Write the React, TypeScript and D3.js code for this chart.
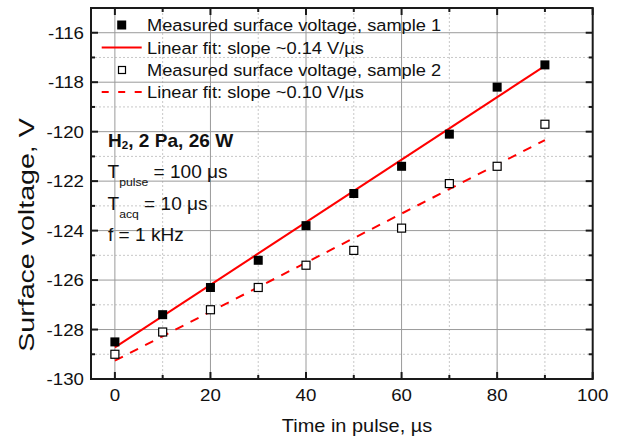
import React from "react";
import * as d3 from "d3";

const timeUs = [0, 10, 20, 30, 40, 50, 60, 70, 80, 90];
const sample1 = [-128.5, -127.4, -126.3, -125.2, -123.8, -122.5, -121.4, -120.1, -118.2, -117.3];
const sample2 = [-129.0, -128.1, -127.2, -126.3, -125.4, -124.8, -123.9, -122.1, -121.4, -119.7];
const fitX = [0, 90];
const fit1Y = [-128.72, -117.34];
const fit2Y = [-129.26, -120.34];
const xMajorTicks = [0, 20, 40, 60, 80, 100];
const xMinorTicks = [10, 30, 50, 70, 90];
const yMajorTicks = [-130, -128, -126, -124, -122, -120, -118, -116];
const yMinorTicks = [-129, -127, -125, -123, -121, -119, -117, -115];
const legendLabels = [
  "Measured surface voltage, sample 1",
  "Linear fit: slope ~0.14 V/\u00b5s",
  "Measured surface voltage, sample 2",
  "Linear fit: slope ~0.10 V/\u00b5s",
];

const W = 626;
const H = 441;
const FONT = "'Liberation Sans', Arial, Helvetica, sans-serif";
const INK = "#111";

function Txt(props: {
  x: number;
  y: number;
  size: number;
  sx?: number;
  anchor?: string;
  weight?: string;
  rotate?: number;
  children: React.ReactNode;
}) {
  const { x, y, size, sx = 1.1, anchor = "start", weight = "normal", rotate = 0, children } = props;
  const tr = `translate(${x},${y})` + (rotate ? ` rotate(${rotate})` : "") + ` scale(${sx},1)`;
  return (
    <text transform={tr} textAnchor={anchor} fontSize={size} fontWeight={weight} fill={INK}>
      {children}
    </text>
  );
}

export default function App() {
  const x = d3.scaleLinear().domain([-5, 100]).range([91, 592.7]);
  const y = d3.scaleLinear().domain([-130, -115]).range([379, 8]);
  const [x0, x1] = x.range();
  const [y0, y1] = y.range();
  const line = d3
    .line<[number, number]>()
    .x((d) => x(d[0]))
    .y((d) => y(d[1]));
  const fit1 = fitX.map((v, i) => [v, fit1Y[i]] as [number, number]);
  const fit2 = fitX.map((v, i) => [v, fit2Y[i]] as [number, number]);
  const sq = 9;
  const red = "#ff0000";
  const majorGrid = "#9a9a9a";
  const minorGrid = "#c8c8c8";
  const axisC = "#1a1a1a";
  const legY = [25, 47.5, 70, 92];
  return (
    <div style={{ position: "absolute", left: 0, top: 0 }}>
      <svg width={W} height={H} style={{ display: "block", background: "#fff" }} fontFamily={FONT}>
        <rect x={0} y={0} width={W} height={H} fill="#fff" />
        {xMinorTicks.map((t) => (
          <line key={"xm" + t} x1={x(t)} x2={x(t)} y1={y0} y2={y1} stroke={minorGrid} strokeWidth={1} strokeDasharray="2,2" />
        ))}
        {yMinorTicks.filter((t) => t > -130 && t < -115).map((t) => (
          <line key={"ym" + t} x1={x0} x2={x1} y1={y(t)} y2={y(t)} stroke={minorGrid} strokeWidth={1} strokeDasharray="2,2" />
        ))}
        {xMajorTicks.filter((t) => t < 100).map((t) => (
          <line key={"xM" + t} x1={x(t)} x2={x(t)} y1={y0} y2={y1} stroke={majorGrid} strokeWidth={1} />
        ))}
        {yMajorTicks.filter((t) => t > -130).map((t) => (
          <line key={"yM" + t} x1={x0} x2={x1} y1={y(t)} y2={y(t)} stroke={majorGrid} strokeWidth={1} />
        ))}
        <path d={line(fit1) || ""} fill="none" stroke={red} strokeWidth={2} />
        <path d={line(fit2) || ""} fill="none" stroke={red} strokeWidth={2} strokeDasharray="9,8" />
        {timeUs.map((t, i) => (
          <rect key={"s1" + t} x={x(t) - sq / 2} y={y(sample1[i]) - sq / 2} width={sq} height={sq} fill="#000" />
        ))}
        {timeUs.map((t, i) => (
          <rect key={"s2" + t} x={x(t) - 4} y={y(sample2[i]) - 4} width={8} height={8} fill="#fff" stroke="#000" strokeWidth={1.2} />
        ))}
        <rect x={x0} y={y1} width={x1 - x0} height={y0 - y1} fill="none" stroke={axisC} strokeWidth={2} />
        {xMajorTicks.map((t) => (
          <g key={"xt" + t}>
            <line x1={x(t)} x2={x(t)} y1={y0} y2={y0 - 7} stroke={axisC} strokeWidth={2} />
            <line x1={x(t)} x2={x(t)} y1={y1} y2={y1 + 7} stroke={axisC} strokeWidth={2} />
            <Txt x={x(t)} y={401} size={17} anchor="middle">{t}</Txt>
          </g>
        ))}
        {xMinorTicks.map((t) => (
          <g key={"xmt" + t}>
            <line x1={x(t)} x2={x(t)} y1={y0} y2={y0 - 4} stroke={axisC} strokeWidth={2} />
            <line x1={x(t)} x2={x(t)} y1={y1} y2={y1 + 4} stroke={axisC} strokeWidth={2} />
          </g>
        ))}
        {yMajorTicks.map((t) => (
          <g key={"yt" + t}>
            <line x1={x0} x2={x0 + 7} y1={y(t)} y2={y(t)} stroke={axisC} strokeWidth={2} />
            <line x1={x1} x2={x1 - 7} y1={y(t)} y2={y(t)} stroke={axisC} strokeWidth={2} />
            <Txt x={84} y={y(t) + 6} size={17} anchor="end">{t}</Txt>
          </g>
        ))}
        {yMinorTicks.map((t) => (
          <g key={"ymt" + t}>
            <line x1={x0} x2={x0 + 4} y1={y(t)} y2={y(t)} stroke={axisC} strokeWidth={2} />
            <line x1={x1} x2={x1 - 4} y1={y(t)} y2={y(t)} stroke={axisC} strokeWidth={2} />
          </g>
        ))}
        <Txt x={357} y={431.5} size={17.5} sx={1.14} anchor="middle">Time in pulse, µs</Txt>
        <Txt x={34} y={235} size={22} sx={1.3} rotate={-90} anchor="middle">Surface voltage, V</Txt>
        <rect x={121.7 - 4.5} y={legY[0] - 4.5} width={9} height={9} fill="#000" />
        <line x1={101.7} x2={141.7} y1={legY[1]} y2={legY[1]} stroke={red} strokeWidth={2} />
        <rect x={122 - 3.5} y={legY[2] - 3.5} width={7} height={7} fill="#fff" stroke="#000" strokeWidth={1.2} />
        <line x1={101.7} x2={141.7} y1={legY[3]} y2={legY[3]} stroke={red} strokeWidth={2} strokeDasharray="7,9.5" />
        {legendLabels.map((l, i) => (
          <Txt key={l} x={147} y={legY[i] + 6} size={17} sx={1.075}>{l}</Txt>
        ))}
        <Txt x={108} y={147.3} size={18} sx={1.06} weight="bold">
          H<tspan fontSize={11} dy={2}>2</tspan><tspan dy={-2}>, 2 Pa, 26 W</tspan>
        </Txt>
        <Txt x={107.5} y={178.3} size={18} sx={1.06}>
          T<tspan fontSize={11.5} dy={8}>pulse</tspan><tspan dy={-8}> = 100 μs</tspan>
        </Txt>
        <Txt x={107.5} y={210} size={18} sx={1.06}>
          T<tspan fontSize={11.5} dy={8}>acq</tspan><tspan dy={-8}> = 10 μs</tspan>
        </Txt>
        <Txt x={108} y={241} size={18} sx={1.06}>f = 1 kHz</Txt>
      </svg>
    </div>
  );
}
